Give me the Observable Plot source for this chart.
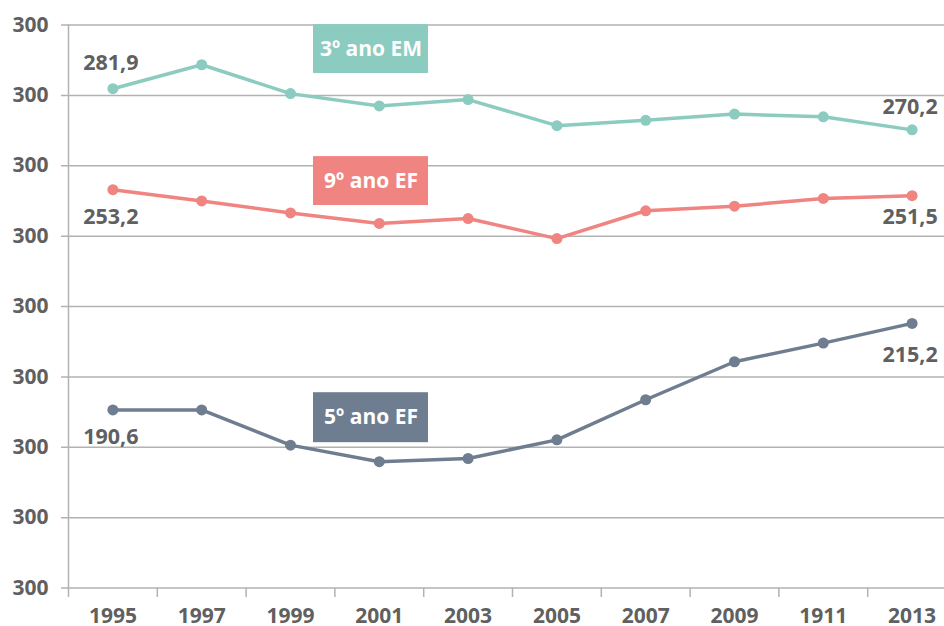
<!DOCTYPE html>
<html>
<head>
<meta charset="utf-8">
<script src="https://cdn.jsdelivr.net/npm/d3@7"></script>
<script src="https://cdn.jsdelivr.net/npm/@observablehq/plot@0.6"></script>
<style>
  html, body { margin: 0; padding: 0; background: #fff; }
  #chart { width: 944px; height: 626px; overflow: hidden; }
</style>
</head>
<body>
<div id="chart"></div>
<script>
// ---- data ----
const years = ["1995", "1997", "1999", "2001", "2003", "2005", "2007", "2009", "1911", "2013"];
const em3 = [281.9, 288.7, 280.5, 277.0, 278.8, 271.4, 272.9, 274.7, 273.9, 270.2];
const ef9 = [253.2, 250.0, 246.6, 243.6, 245.0, 239.3, 247.2, 248.5, 250.7, 251.5];
const ef5 = [190.6, 190.6, 180.6, 175.9, 176.8, 182.1, 193.5, 204.3, 209.6, 215.2];
const seriesNames = ["3º ano EM", "9º ano EF", "5º ano EF"];
const yTicks = [140, 160, 180, 200, 220, 240, 260, 280, 300];
const yTickLabels = ["300", "300", "300", "300", "300", "300", "300", "300", "300"];
// annotation boxes (value extents of the coloured label boxes)
const boxYear = ["2001", "2001", "2001"];
const boxTop = [300.1, 262.6, 195.5];
const boxBottom = [286.2, 248.7, 181.3];

// ---- styling ----
const colors = ["#8bcbc0", "#f08481", "#6e7d8f"];
const labelDy = [[-25.5, -23], [27.5, 21], [27, 32]];
const textGray = "#606060";
const font = "'Open Sans', sans-serif";

const allValues = [em3, ef9, ef5];
const rows = allValues.flatMap((vals, s) =>
  vals.map((v, i) => ({ series: seriesNames[s], year: years[i], value: v, idx: i }))
);
const fmt = v => v.toFixed(1).replace(".", ",");

const marks = [
  Plot.ruleY(yTicks, { y: d => d, stroke: "#b2b2b2", strokeWidth: 1.5 }),
  // left axis line
  Plot.ruleX([years[0]], { x: d => d, dx: -44.4, y1: 300, y2: 137.3, stroke: "#b2b2b2", strokeWidth: 1.5 }),
  // band boundary ticks
  Plot.ruleX(years.slice(1), { x: d => d, dx: -44.4, y1: 140, y2: 137.3, stroke: "#b2b2b2", strokeWidth: 1.5 }),
  Plot.axisY(yTicks, {
    tickSize: 0, tickPadding: 13, tickFormat: d => yTickLabels[yTicks.indexOf(d)],
    fontSize: 21, fontWeight: 700, fontFamily: font, fill: textGray, label: null
  }),
  Plot.axisX({
    tickSize: 0, tickPadding: 20, fontSize: 21, fontWeight: 700, fontFamily: font, fill: textGray, label: null
  })
];

seriesNames.forEach((name, s) => {
  const data = rows.filter(r => r.series === name);
  marks.push(Plot.line(data, { x: "year", y: "value", stroke: colors[s], strokeWidth: 3.5 }));
  marks.push(Plot.dot(data, { x: "year", y: "value", r: 5.5, fill: colors[s] }));
  const first = data[0], last = data[data.length - 1];
  marks.push(Plot.text([first], {
    x: "year", y: "value", text: d => fmt(d.value), dy: labelDy[s][0], dx: -2,
    fontSize: 21.5, fontWeight: 700, fontFamily: font, fill: textGray, lineAnchor: "middle"
  }));
  marks.push(Plot.text([last], {
    x: "year", y: "value", text: d => fmt(d.value), dy: labelDy[s][1], dx: -2,
    fontSize: 21.5, fontWeight: 700, fontFamily: font, fill: textGray, lineAnchor: "middle"
  }));
  // label box
  const box = [{ year: boxYear[s], top: boxTop[s], bottom: boxBottom[s], name }];
  marks.push(Plot.barY(box, {
    x: "year", y1: "bottom", y2: "top", fill: colors[s], insetLeft: -21.4, insetRight: -4.8
  }));
  marks.push(Plot.text(box, {
    x: "year", y: d => (d.top + d.bottom) / 2, text: "name", dx: -8.3,
    fill: "white", fontSize: 21, fontWeight: 700, fontFamily: font, lineAnchor: "middle"
  }));
});

const chart = Plot.plot({
  width: 944,
  height: 626,
  marginTop: 24.5,
  marginBottom: 38.5,
  marginLeft: 61,
  marginRight: 0,
  style: { fontFamily: font, background: "white", color: textGray },
  x: { type: "band", domain: years, range: [68, 956], padding: 0, round: false },
  y: { domain: [140, 300], range: [587.5, 24.5] },
  marks
});
document.getElementById("chart").appendChild(chart);
</script>
</body>
</html>
